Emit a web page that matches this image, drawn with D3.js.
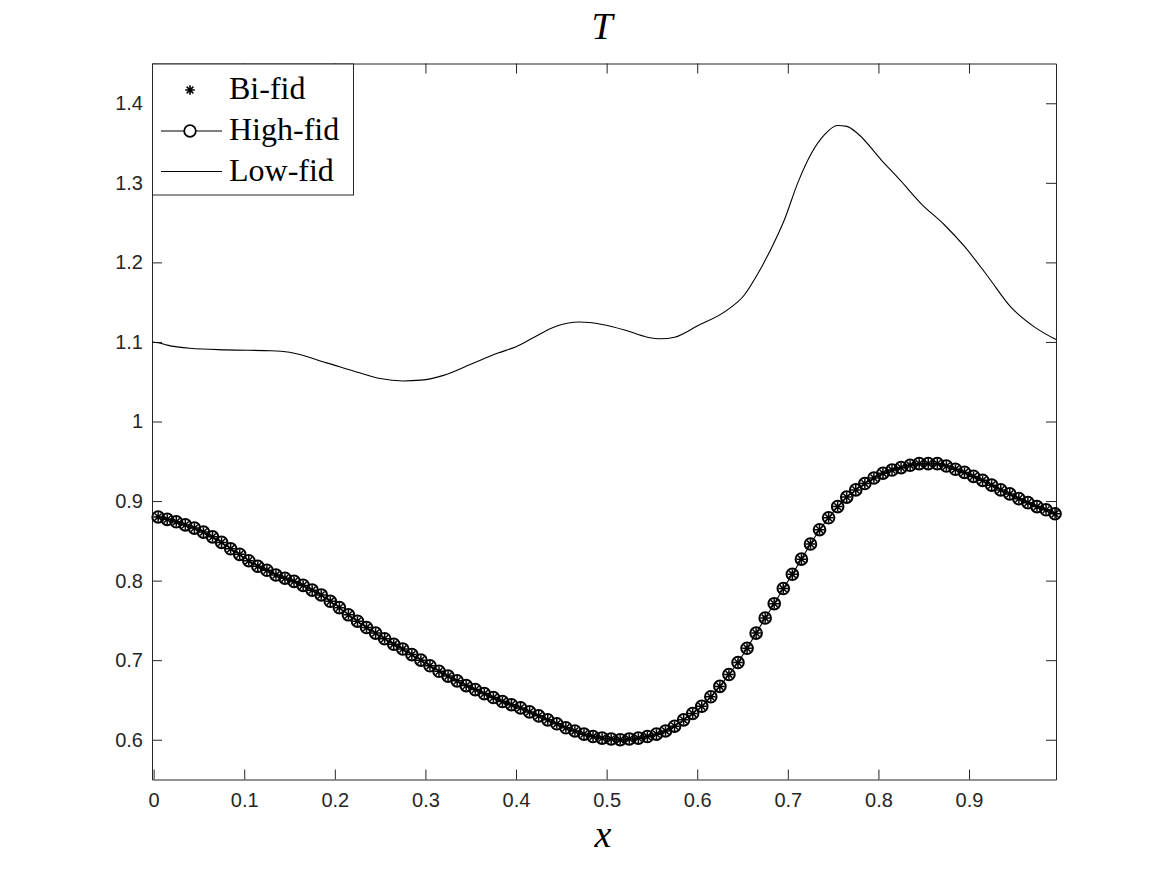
<!DOCTYPE html>
<html>
<head>
<meta charset="utf-8">
<script src="https://cdn.jsdelivr.net/npm/d3@7"></script>
<style>
body { margin: 0; background: #fff; }
svg { display: block; }
</style>
</head>
<body>
<svg class="chart"></svg>
<script>
// high-fid / bi-fid sample locations (cell centres)
var hiX = [0.005,0.015,0.025,0.035,0.045,0.055,0.065,0.075,0.085,0.095,
	0.105,0.115,0.125,0.135,0.145,0.155,0.165,0.175,0.185,0.195,
	0.205,0.215,0.225,0.235,0.245,0.255,0.265,0.275,0.285,0.295,
	0.305,0.315,0.325,0.335,0.345,0.355,0.365,0.375,0.385,0.395,
	0.405,0.415,0.425,0.435,0.445,0.455,0.465,0.475,0.485,0.495,
	0.505,0.515,0.525,0.535,0.545,0.555,0.565,0.575,0.585,0.595,
	0.605,0.615,0.625,0.635,0.645,0.655,0.665,0.675,0.685,0.695,
	0.705,0.715,0.725,0.735,0.745,0.755,0.765,0.775,0.785,0.795,
	0.805,0.815,0.825,0.835,0.845,0.855,0.865,0.875,0.885,0.895,
	0.905,0.915,0.925,0.935,0.945,0.955,0.965,0.975,0.985,0.995];

var hiT = [0.880,0.877,0.874,0.870,0.866,0.861,0.855,0.848,0.840,0.833,
	0.825,0.818,0.813,0.807,0.803,0.799,0.794,0.788,0.782,0.774,
	0.766,0.757,0.749,0.741,0.734,0.727,0.720,0.714,0.707,0.700,
	0.693,0.686,0.680,0.674,0.668,0.663,0.658,0.653,0.648,0.644,
	0.640,0.635,0.630,0.625,0.620,0.615,0.611,0.607,0.604,0.602,
	0.601,0.600,0.601,0.602,0.604,0.607,0.611,0.617,0.625,0.633,
	0.642,0.654,0.667,0.682,0.697,0.715,0.734,0.753,0.771,0.790,
	0.808,0.827,0.846,0.864,0.879,0.893,0.905,0.914,0.922,0.929,
	0.935,0.939,0.942,0.945,0.947,0.947,0.947,0.944,0.940,0.936,
	0.931,0.926,0.920,0.914,0.909,0.903,0.898,0.893,0.889,0.884];

// bi-fid sits on top of high-fid
var biT = hiT.slice();

var lowX = [-0.0018,0.005,0.015,0.04,0.08,0.13,0.15,0.19,0.225,0.25,0.275,0.295,
	0.32,0.35,0.38,0.40,0.42,0.445,0.47,0.495,0.52,0.545,0.56,0.575,0.60,
	0.633,0.652,0.667,0.681,0.696,0.711,0.725,0.74,0.755,0.765,0.777,
	0.803,0.825,0.847,0.873,0.895,0.921,0.946,0.972,0.996];
var lowT = [1.100,1.099,1.096,1.092,1.090,1.089,1.087,1.074,1.062,1.054,1.051,1.052,
	1.058,1.072,1.086,1.094,1.106,1.120,1.125,1.122,1.115,1.106,1.104,1.106,1.120,
	1.140,1.159,1.186,1.216,1.253,1.300,1.335,1.360,1.372,1.371,1.362,
	1.329,1.302,1.274,1.247,1.220,1.182,1.144,1.119,1.103];

var xTicks = [0,0.1,0.2,0.3,0.4,0.5,0.6,0.7,0.8,0.9];
var xTickLabels = ["0","0.1","0.2","0.3","0.4","0.5","0.6","0.7","0.8","0.9"];
var yTicks = [0.6,0.7,0.8,0.9,1,1.1,1.2,1.3,1.4];
var yTickLabels = ["0.6","0.7","0.8","0.9","1","1.1","1.2","1.3","1.4"];
var legendNames = ["Bi-fid","High-fid","Low-fid"];

var axisColor = "#262626";

function asteriskPath(r) {
	var d = "";
	for (var k = 0; k < 4; k++) {
		var a = k * Math.PI / 4;
		var dx = r * Math.cos(a), dy = r * Math.sin(a);
		d += "M" + (-dx) + "," + (-dy) + "L" + dx + "," + dy;
	}
	return d;
}

function drawChart() {
	var svgWidth = 1167, svgHeight = 875;
	var margin = { top: 63.5, right: 111, bottom: 95.5, left: 152 };
	var width = svgWidth - margin.left - margin.right;
	var height = svgHeight - margin.top - margin.bottom;

	var svg = d3.select(".chart")
	.attr("width", svgWidth)
	.attr("height", svgHeight);

	svg.append("rect")
	.attr("width", svgWidth)
	.attr("height", svgHeight)
	.attr("fill", "#fff");

	var g = svg.append("g")
	.attr("transform", "translate(" + margin.left + "," + margin.top + ")");

	var x = d3.scaleLinear()
	.domain([-0.0018, 0.996])
	.range([0, width]);

	var y = d3.scaleLinear()
	.domain([0.55, 1.45])
	.range([height, 0]);

	// axes, ticks pointing inward, box on
	var xAxis = g.append("g")
	.attr("transform", "translate(0," + height + ")")
	.call(d3.axisBottom(x).tickValues(xTicks)
		.tickFormat(function(d, i) { return xTickLabels[i]; })
		.tickSizeInner(-10).tickSizeOuter(0).tickPadding(13));

	var yAxis = g.append("g")
	.call(d3.axisLeft(y).tickValues(yTicks)
		.tickFormat(function(d, i) { return yTickLabels[i]; })
		.tickSizeInner(-10).tickSizeOuter(0).tickPadding(9));

	var topAxis = g.append("g")
	.call(d3.axisTop(x).tickValues(xTicks).tickFormat("")
		.tickSizeInner(-10).tickSizeOuter(0));

	var rightAxis = g.append("g")
	.attr("transform", "translate(" + width + ",0)")
	.call(d3.axisRight(y).tickValues(yTicks).tickFormat("")
		.tickSizeInner(-10).tickSizeOuter(0));

	[xAxis, yAxis, topAxis, rightAxis].forEach(function(a) {
		a.selectAll("path, line")
		.attr("stroke", axisColor)
		.attr("stroke-width", 1);
		a.selectAll("text")
		.attr("fill", axisColor)
		.attr("font-family", "'Liberation Sans', Arial, Helvetica, sans-serif")
		.attr("font-size", 20);
	});

	// low-fid
	var lowData = lowX.map(function(v, i) { return { x: v, t: lowT[i] }; });
	var line = d3.line()
	.x(function(d) { return x(d.x); })
	.y(function(d) { return y(d.t); })
	.curve(d3.curveMonotoneX);

	g.append("path")
	.datum(lowData)
	.attr("fill", "none")
	.attr("stroke", "#000")
	.attr("stroke-width", 1.1)
	.attr("d", line);

	// high-fid
	var hiData = hiX.map(function(v, i) { return { x: v, t: hiT[i] }; });
	g.append("path")
	.datum(hiData)
	.attr("fill", "none")
	.attr("stroke", "#000")
	.attr("stroke-width", 1.1)
	.attr("d", d3.line()
		.x(function(d) { return x(d.x); })
		.y(function(d) { return y(d.t); }));

	g.selectAll(".hi")
	.data(hiData)
	.enter().append("circle")
	.attr("class", "hi")
	.attr("cx", function(d) { return x(d.x); })
	.attr("cy", function(d) { return y(d.t); })
	.attr("r", 5.8)
	.attr("fill", "none")
	.attr("stroke", "#000")
	.attr("stroke-width", 2);

	// bi-fid asterisks
	var biData = hiX.map(function(v, i) { return { x: v, t: biT[i] }; });
	g.selectAll(".bi")
	.data(biData)
	.enter().append("path")
	.attr("class", "bi")
	.attr("transform", function(d) { return "translate(" + x(d.x) + "," + y(d.t) + ")"; })
	.attr("d", asteriskPath(4.8))
	.attr("stroke", "#000")
	.attr("stroke-width", 1.5);

	// legend
	var lg = g.append("g");
	lg.append("rect")
	.attr("x", 0.5)
	.attr("y", 0.5)
	.attr("width", 201)
	.attr("height", 131)
	.attr("fill", "#fff")
	.attr("stroke", axisColor)
	.attr("stroke-width", 1);

	var rowY = [26.5, 67.5, 108];
	lg.append("path")
	.attr("transform", "translate(38," + rowY[0] + ")")
	.attr("d", asteriskPath(4.8))
	.attr("stroke", "#000")
	.attr("stroke-width", 1.6);

	lg.append("line")
	.attr("x1", 9).attr("x2", 70)
	.attr("y1", rowY[1]).attr("y2", rowY[1])
	.attr("stroke", "#000").attr("stroke-width", 1.1);
	lg.append("circle")
	.attr("cx", 38).attr("cy", rowY[1]).attr("r", 5.8)
	.attr("fill", "#fff").attr("stroke", "#000").attr("stroke-width", 1.8);

	lg.append("line")
	.attr("x1", 9).attr("x2", 70)
	.attr("y1", rowY[2]).attr("y2", rowY[2])
	.attr("stroke", "#000").attr("stroke-width", 1.1);

	lg.selectAll(".lt")
	.data(legendNames)
	.enter().append("text")
	.attr("class", "lt")
	.attr("x", 77)
	.attr("y", function(d, i) { return rowY[i] + 9; })
	.attr("font-family", "'Liberation Serif', 'DejaVu Serif', serif")
	.attr("font-size", 32)
	.attr("fill", "#000")
	.text(function(d) { return d; });

	// title and x label
	svg.append("text")
	.attr("x", 602)
	.attr("y", 39)
	.attr("text-anchor", "middle")
	.attr("font-family", "'Liberation Serif', 'DejaVu Serif', serif")
	.attr("font-style", "italic")
	.attr("font-size", 38)
	.attr("fill", "#000")
	.text("T");

	svg.append("text")
	.attr("x", 603)
	.attr("y", 847)
	.attr("text-anchor", "middle")
	.attr("font-family", "'Liberation Serif', 'DejaVu Serif', serif")
	.attr("font-style", "italic")
	.attr("font-size", 38)
	.attr("fill", "#000")
	.text("x");
}

drawChart();
</script>
</body>
</html>
